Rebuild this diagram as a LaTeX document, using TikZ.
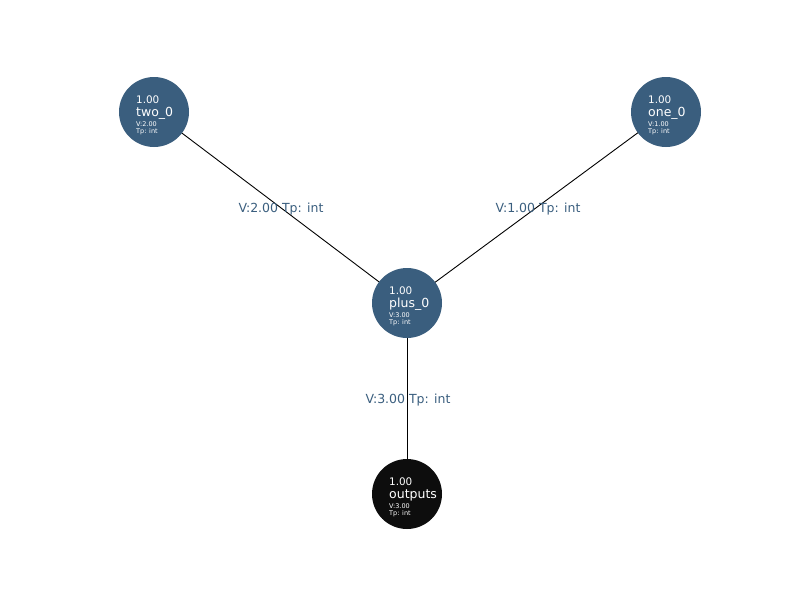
\documentclass[tikz,border=0pt]{standalone}
\usepackage{fontspec}
\setmainfont{DejaVu Sans}
\definecolor{nodeblue}{RGB}{58,94,126}
\definecolor{nodedark}{RGB}{13,13,13}
\begin{document}
\begin{tikzpicture}[x=1pt,y=-1pt,
  opnode/.style={circle,minimum size=70pt,inner sep=0pt,fill=nodeblue,draw=none},
  outnode/.style={opnode,fill=nodedark},
  valtxt/.style={anchor=base west,inner sep=0pt,text=white,font=\fontsize{10.4}{12}\selectfont},
  nametxt/.style={anchor=base west,inner sep=0pt,text=white,font=\fontsize{12.5}{14}\selectfont},
  smalltxt/.style={anchor=base west,inner sep=0pt,text=white,font=\fontsize{6.5}{7}\selectfont},
  edgelbl/.style={inner sep=0pt,text=nodeblue,font=\fontsize{12.5}{14}\selectfont},
  wire/.style={draw=black,line width=0.9pt}]
\useasboundingbox (0,0) rectangle (800,600);

% node positions
\coordinate (two)  at (154,112);
\coordinate (one)  at (666,112);
\coordinate (plus) at (407,303);
\coordinate (out)  at (407,494);

% connectors first, so the discs cover their ends
\path[wire] (two) -- (plus);
\path[wire] (one) -- (plus);
\path[wire] (plus) -- (out);

% discs
\node[opnode]  (two-c)  at (two)  {};
\node[opnode]  (one-c)  at (one)  {};
\node[opnode]  (plus-c) at (plus) {};
\node[outnode] (out-c)  at (out)  {};

% edge labels
\node[edgelbl] (l1) at (281,209.5) {V:2.00 Tp: int};
\node[edgelbl] (l2) at (538,209.5) {V:1.00 Tp: int};
\node[edgelbl] (l3) at (408,400.5) {V:3.00 Tp: int};

% node texts
\foreach \n/\name/\v in {two/two\_0/2.00, one/one\_0/1.00, plus/plus\_0/3.00, out/outputs/3.00}{
  \node[valtxt]   (\n-w) at ([shift={(-18,-8.5)}]\n) {1.00};
  \node[nametxt]  (\n-n) at ([shift={(-18,4.7)}]\n) {\name};
  \node[smalltxt] (\n-v) at ([shift={(-18,14.7)}]\n) {V:\v};
  \node[smalltxt] (\n-t) at ([shift={(-18,21)}]\n) {Tp: int};
}
\end{tikzpicture}
\end{document}
